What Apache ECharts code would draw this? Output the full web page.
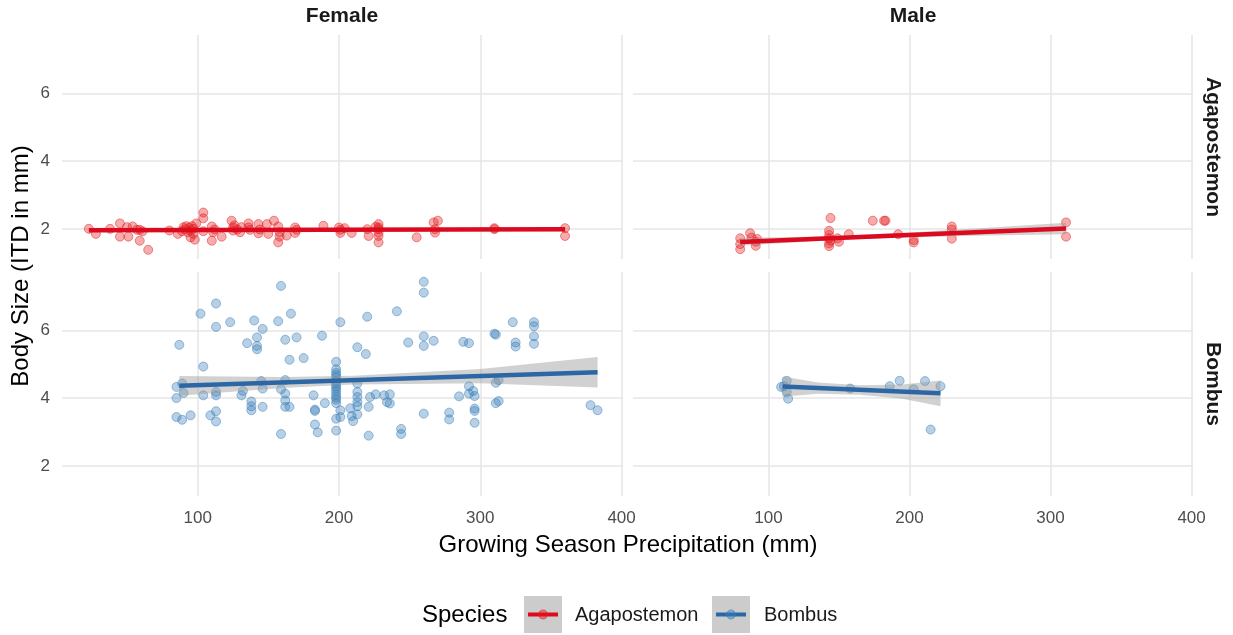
<!DOCTYPE html>
<html>
<head>
<meta charset="utf-8">
<script src="https://cdn.jsdelivr.net/npm/echarts@6/dist/echarts.min.js"></script>
<style>
html,body{margin:0;padding:0;background:#fff;}
#chart{width:1233px;height:635px;}
</style>
</head>
<body>
<div id="chart"></div>
<script>
// ---------------- DATA ----------------
const sexes = ['Female', 'Male'];
const species = ['Agapostemon', 'Bombus'];
const xTicks = [100, 200, 300, 400];
const yTicks = [2, 4, 6];

// [precipitation, ITD]
const agaFemale = [
  [23,2.0],[28,1.85],[38,2.0],[45,2.16],[45,1.77],[50,2.05],[51,1.77],[54,2.07],[57,1.97],[59,1.97],[59,1.65],[61,1.93],[65,1.38],
  [80,1.95],[86,1.85],[89,1.93],[90,2.05],[91,1.99],[92,2.08],[93,1.9],[94,2.03],[95,1.75],[95,1.95],[96,2.08],[97,1.85],[97,2.0],[98,1.68],
  [99,2.16],[104,2.48],[104,2.31],[104,1.93],[110,2.07],[110,1.65],[111,1.9],[112,1.98],[117,1.77],
  [124,2.24],[125,2.04],[125,1.95],[126,2.1],[128,1.98],[130,1.9],[131,2.05],[136,2.16],[136,2.04],[137,1.97],
  [143,2.14],[143,1.87],[144,1.98],[149,2.14],[150,1.85],[154,2.24],[157,2.07],[158,1.9],[157,1.6],[158,1.77],
  [163,1.8],[169,2.04],[169,1.88],[170,1.97],[189,2.09],[200,2.04],[201,1.88],[201,1.97],[204,2.02],[209,1.88],
  [220,1.99],[221,1.79],[226,2.06],[228,2.14],[228,2.04],[228,1.99],[228,1.89],[228,1.79],[228,1.6],
  [255,1.75],[267,2.19],[270,2.24],[268,1.99],[268,1.89],[310,1.99],[310,2.02],[360,2.02],[360,1.79]
];
const agaMale = [
  [80,1.72],[80,1.55],[80,1.4],[87,1.87],[88,1.74],[91,1.62],[91,1.5],[92,1.7],
  [144,2.32],[143,1.94],[143,1.82],[143,1.72],[143,1.57],[143,1.49],[144,1.65],[149,1.72],[150,1.62],[157,1.84],
  [174,2.24],[182,2.24],[183,2.24],[192,1.84],[203,1.67],[203,1.6],[230,2.07],[230,1.98],[230,1.71],[311,2.19],[311,1.77]
];
const bomFemale = [
  [87,5.57],[85,4.33],[85,4.0],[89,4.43],[90,4.15],[85,3.44],[89,3.36],[95,3.49],[102,6.49],[104,4.93],[104,4.08],
  [109,3.49],[113,6.79],[113,6.1],[113,4.18],[113,4.08],[113,3.61],[113,3.31],[123,6.24],[132,4.21],[131,4.08],
  [135,5.62],[140,6.29],[142,5.79],[142,5.54],[142,5.44],[138,3.9],[138,3.76],[138,3.64],[145,4.5],[146,6.04],
  [146,4.28],[146,3.74],[157,6.27],[159,7.31],[159,4.26],[159,2.94],[162,4.53],[162,5.72],[162,4.13],[162,3.93],
  [162,3.74],[165,5.13],[165,3.74],[166,6.49],[170,5.79],[175,5.18],[182,4.08],[183,3.66],[183,3.62],[183,3.22],
  [185,2.99],[188,5.84],[190,3.85],
  [198,5.07],[198,4.85],[198,4.75],[198,4.68],[198,4.6],[198,4.5],[198,4.42],[198,4.35],[198,4.28],[198,4.2],
  [198,4.1],[198,4.02],[198,3.95],[198,3.85],[198,3.39],[198,3.04],
  [201,6.24],[201,3.64],[201,3.44],[208,3.7],[209,3.47],[210,3.32],[213,5.5],[213,4.43],[213,4.18],[213,4.03],
  [213,3.88],[213,3.76],[213,3.52],[219,5.3],[220,6.4],[221,3.74],[221,2.89],[222,4.03],[226,4.11],[232,4.08],
  [234,3.88],[236,4.11],[236,3.84],[241,6.56],[244,3.09],[244,2.94],[249,5.64],[260,7.43],[260,7.11],[260,5.82],
  [260,5.54],[260,3.54],[267,5.69],[278,3.57],[278,3.37],[285,4.05],[288,5.66],[292,5.62],[292,4.35],[292,4.13],
  [295,4.21],[296,4.06],[296,3.69],[296,3.62],[296,3.27],[310,5.9],[311,5.87],[311,4.45],[313,4.53],[311,3.85],
  [313,3.91],[323,6.24],[325,5.64],[325,5.52],[338,6.24],[338,6.12],[338,5.82],[338,5.6],[378,3.79],[383,3.64]
];
const bomMale = [
  [109,4.33],[111,4.35],[113,4.51],[113,4.18],[114,3.98],[158,4.28],[186,4.35],[193,4.51],[203,4.26],[211,4.5],[215,3.07],[222,4.35]
];

// linear fit lines: [x, y] at the two ends
const agaFemaleFit = [[23,1.96],[360,1.99]];
const agaMaleFit   = [[80,1.615],[311,2.01]];
const bomFemaleFit = [[87,4.36],[383,4.76]];
const bomMaleFit   = [[110,4.34],[222,4.14]];

// confidence bands: [x, lower, upper]
const agaFemaleBand = [[23,1.90,2.02],[110,1.93,2.0],[190,1.95,2.0],[275,1.95,2.02],[360,1.93,2.05]];
const agaMaleBand   = [[80,1.50,1.73],[145,1.67,1.78],[200,1.75,1.89],[255,1.80,2.03],[311,1.84,2.18]];
const bomFemaleBand = [[87,4.07,4.65],[160,4.30,4.62],[210,4.40,4.66],[300,4.44,4.86],[383,4.31,5.21]];
const bomMaleBand   = [[110,4.04,4.64],[135,4.13,4.46],[165,4.10,4.38],[195,3.98,4.40],[222,3.76,4.52]];

// ---------------- STYLE ----------------
const RED = '#dc0a1e', BLUE = '#2b67a5';
const RED_PT = 'rgba(228,26,28,0.45)', RED_PT_B = 'rgba(228,26,28,0.6)';
const BLUE_PT = 'rgba(55,126,184,0.45)', BLUE_PT_B = 'rgba(55,126,184,0.6)';
const FONT = '"Liberation Sans", Arial, sans-serif';
const X_MIN = 4, X_MAX = 401, Y_MIN = 1.11, Y_MAX = 7.72;
const GRID_COL = '#e6e6e6';

const panels = [
  {grid:{left:62, top:35, width:561, height:224}, pts:agaFemale, fit:agaFemaleFit, band:agaFemaleBand, c:RED, pc:RED_PT, pb:RED_PT_B, showX:false, showY:true},
  {grid:{left:633, top:35, width:560, height:224}, pts:agaMale, fit:agaMaleFit, band:agaMaleBand, c:RED, pc:RED_PT, pb:RED_PT_B, showX:false, showY:false},
  {grid:{left:62, top:272, width:561, height:224}, pts:bomFemale, fit:bomFemaleFit, band:bomFemaleBand, c:BLUE, pc:BLUE_PT, pb:BLUE_PT_B, showX:true, showY:true},
  {grid:{left:633, top:272, width:560, height:224}, pts:bomMale, fit:bomMaleFit, band:bomMaleBand, c:BLUE, pc:BLUE_PT, pb:BLUE_PT_B, showX:true, showY:false}
];

const grids = [], xAxes = [], yAxes = [], series = [];
panels.forEach((p, i) => {
  grids.push(Object.assign({containLabel:false}, p.grid));
  xAxes.push({
    type:'value', gridIndex:i, min:X_MIN, max:X_MAX, minInterval:100, maxInterval:100,
    axisLine:{show:false}, axisTick:{show:false},
    splitLine:{show:true, showMinLine:false, showMaxLine:false, lineStyle:{color:GRID_COL, width:1.6}},
    axisLabel:{show:p.showX, margin:14, color:'#4d4d4d', fontSize:17, fontFamily:FONT,
      formatter: v => xTicks.indexOf(v) >= 0 ? String(v) : ''}
  });
  yAxes.push({
    type:'value', gridIndex:i, min:Y_MIN, max:Y_MAX, minInterval:2, maxInterval:2,
    axisLine:{show:false}, axisTick:{show:false},
    splitLine:{show:true, showMinLine:false, showMaxLine:false, lineStyle:{color:GRID_COL, width:1.6}},
    axisLabel:{show:p.showY, margin:12, color:'#4d4d4d', fontSize:17, fontFamily:FONT,
      formatter: v => yTicks.indexOf(v) >= 0 ? String(v) : ''}
  });
  series.push({
    type:'scatter', xAxisIndex:i, yAxisIndex:i, data:p.pts, symbolSize:9, z:2,
    itemStyle:{color:p.pc, borderColor:p.pb, borderWidth:1}, silent:true
  });
  const band = p.band;
  series.push({
    type:'custom', xAxisIndex:i, yAxisIndex:i, data:[0], z:3, silent:true,
    renderItem: function(params, api){
      const upper = band.map(b => api.coord([b[0], b[2]]));
      const lower = band.slice().reverse().map(b => api.coord([b[0], b[1]]));
      return {type:'polygon', shape:{points:upper.concat(lower)},
        style:{fill:'rgba(153,153,153,0.45)', stroke:null}};
    }
  });
  series.push({
    type:'line', xAxisIndex:i, yAxisIndex:i, data:p.fit, symbol:'none', z:4, silent:true,
    lineStyle:{color:p.c, width:4.5}
  });
});

const graphics = [
  {type:'text', x:342, y:16, style:{text:sexes[0], font:'bold 21px ' + FONT, fill:'#1a1a1a', align:'center', verticalAlign:'middle'}},
  {type:'text', x:913, y:16, style:{text:sexes[1], font:'bold 21px ' + FONT, fill:'#1a1a1a', align:'center', verticalAlign:'middle'}},
  {type:'text', x:1213, y:147, rotation:-Math.PI/2, style:{text:species[0], font:'bold 21px ' + FONT, fill:'#1a1a1a', align:'center', verticalAlign:'middle'}},
  {type:'text', x:1213, y:384, rotation:-Math.PI/2, style:{text:species[1], font:'bold 21px ' + FONT, fill:'#1a1a1a', align:'center', verticalAlign:'middle'}},
  {type:'text', x:21, y:266, rotation:Math.PI/2, style:{text:'Body Size (ITD in mm)', font:'24px ' + FONT, fill:'#000', align:'center', verticalAlign:'middle'}},
  {type:'text', x:628, y:545, style:{text:'Growing Season Precipitation (mm)', font:'24px ' + FONT, fill:'#000', align:'center', verticalAlign:'middle'}},
  {type:'text', x:422, y:615, style:{text:'Species', font:'24px ' + FONT, fill:'#000', align:'left', verticalAlign:'middle'}},
  {type:'rect', shape:{x:524, y:596, width:38, height:37}, style:{fill:'#cccccc'}},
  {type:'line', shape:{x1:528, y1:614.5, x2:558, y2:614.5}, style:{stroke:RED, lineWidth:4}},
  {type:'circle', shape:{cx:543, cy:614.5, r:4.5}, style:{fill:RED_PT, stroke:RED_PT_B, lineWidth:1}},
  {type:'text', x:575, y:615, style:{text:species[0], font:'20px ' + FONT, fill:'#1a1a1a', align:'left', verticalAlign:'middle'}},
  {type:'rect', shape:{x:712, y:596, width:38, height:37}, style:{fill:'#cccccc'}},
  {type:'line', shape:{x1:716, y1:614.5, x2:746, y2:614.5}, style:{stroke:BLUE, lineWidth:4}},
  {type:'circle', shape:{cx:731, cy:614.5, r:4.5}, style:{fill:BLUE_PT, stroke:BLUE_PT_B, lineWidth:1}},
  {type:'text', x:764, y:615, style:{text:species[1], font:'20px ' + FONT, fill:'#1a1a1a', align:'left', verticalAlign:'middle'}}
];

const chart = echarts.init(document.getElementById('chart'), null, {renderer:'canvas'});
chart.setOption({
  animation:false,
  backgroundColor:'#ffffff',
  grid:grids, xAxis:xAxes, yAxis:yAxes, series:series,
  graphic:graphics
});
</script>
</body>
</html>
